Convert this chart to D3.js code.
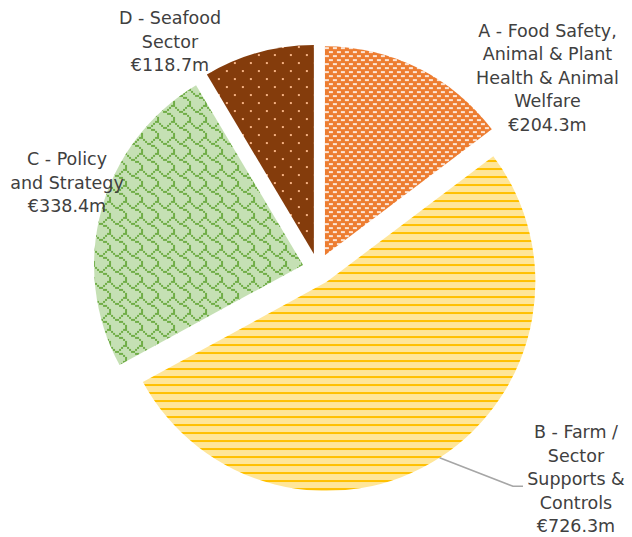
<!DOCTYPE html>
<html>
<head>
<meta charset="utf-8">
<script src="https://cdn.jsdelivr.net/npm/d3@7"></script>
<style>
  html, body { margin: 0; padding: 0; background: #ffffff; }
  svg { display: block; }
  .lbl { font-family: "DejaVu Sans", Verdana, sans-serif; font-size: 17.5px; fill: #404040; }
</style>
</head>
<body>
<svg id="chart" width="632" height="537"></svg>
<script>
// Budget by programme (€ million)
const categories = ["A", "B", "C", "D"];
const values = [204.3, 726.3, 338.4, 118.7];
const labelLines = [
  ["A - Food Safety,", "Animal & Plant", "Health & Animal", "Welfare"],
  ["B - Farm /", "Sector", "Supports &", "Controls"],
  ["C - Policy", "and Strategy"],
  ["D - Seafood", "Sector"]
];

const W = 632, H = 537;
const cx = 318, cy = 269, radius = 209, explode = 15.5;
const lineH = 23.5;

const svg = d3.select("#chart");
const defs = svg.append("defs");

// Pattern fills (2x pixel scale bitmaps)
function bitmapPattern(id, bg, fg, rows, scale) {
  const n = rows.length;
  const p = defs.append("pattern").attr("id", id)
    .attr("patternUnits", "userSpaceOnUse")
    .attr("width", 8 * scale).attr("height", n * scale);
  p.append("rect").attr("width", 8 * scale).attr("height", n * scale).attr("fill", bg);
  rows.forEach((bits, r) => {
    for (let c = 0; c < 8; c++) {
      if (bits & (0x80 >> c)) {
        p.append("rect").attr("x", c * scale).attr("y", r * scale)
          .attr("width", scale).attr("height", scale).attr("fill", fg)
          .attr("shape-rendering", "crispEdges");
      }
    }
  });
}
// A: small dashes
bitmapPattern("patA", "#ED7D31", "#FBE5D6", [0xCC, 0x00, 0x33, 0x00], 2);
// B: light horizontal
bitmapPattern("patB", "#FFE699", "#FFC000", [0x00, 0x00, 0x00, 0xFF], 2);
// C: shingle
bitmapPattern("patC", "#C5E0B4", "#70AD47", [0x03, 0x84, 0x48, 0x30, 0x0C, 0x02, 0x01, 0x01], 2);
// D: 5 percent dots
bitmapPattern("patD", "#843C0C", "#F4B183", [0x80, 0x00, 0x00, 0x00, 0x08, 0x00, 0x00, 0x00], 2);

const fills = ["url(#patA)", "url(#patB)", "url(#patC)", "url(#patD)"];

const pie = d3.pie().sort(null).value(d => d)(values);
const arc = d3.arc().innerRadius(0).outerRadius(radius);

const g = svg.append("g").attr("transform", `translate(${cx},${cy})`);

function offsetOf(d) {
  const mid = (d.startAngle + d.endAngle) / 2;
  return [explode * Math.sin(mid), -explode * Math.cos(mid)];
}

g.selectAll("path.slice").data(pie).join("path")
  .attr("class", "slice")
  .attr("d", arc)
  .attr("fill", (d, i) => fills[i])
  .attr("transform", d => { const [dx, dy] = offsetOf(d); return `translate(${dx},${dy})`; });

// Label blocks: centre x and first baseline
const labelPos = [
  { x: 547.5, y: 36.7 },
  { x: 576, y: 438.3 },
  { x: 67, y: 165 },
  { x: 170, y: 24 }
];

const fmt = v => "€" + v.toFixed(1) + "m";

// Leader line for B
{
  const d = pie[1];
  const mid = (d.startAngle + d.endAngle) / 2;
  const [dx, dy] = offsetOf(d);
  const sx = cx + dx + radius * Math.sin(mid);
  const sy = cy + dy - radius * Math.cos(mid);
  const ey = labelPos[1].y + 2 * lineH + 1;
  svg.append("polyline")
    .attr("points", `${sx},${sy} ${513},${ey} ${523},${ey}`)
    .attr("fill", "none").attr("stroke", "#A6A6A6").attr("stroke-width", 1.5);
}

const labels = svg.append("g");
pie.forEach((d, i) => {
  const lines = labelLines[i].concat([fmt(values[i])]);
  const t = labels.append("text").attr("class", "lbl").attr("text-anchor", "middle");
  lines.forEach((s, k) => {
    t.append("tspan").attr("x", labelPos[i].x).attr("y", labelPos[i].y + k * lineH).text(s);
  });
});
</script>
</body>
</html>
